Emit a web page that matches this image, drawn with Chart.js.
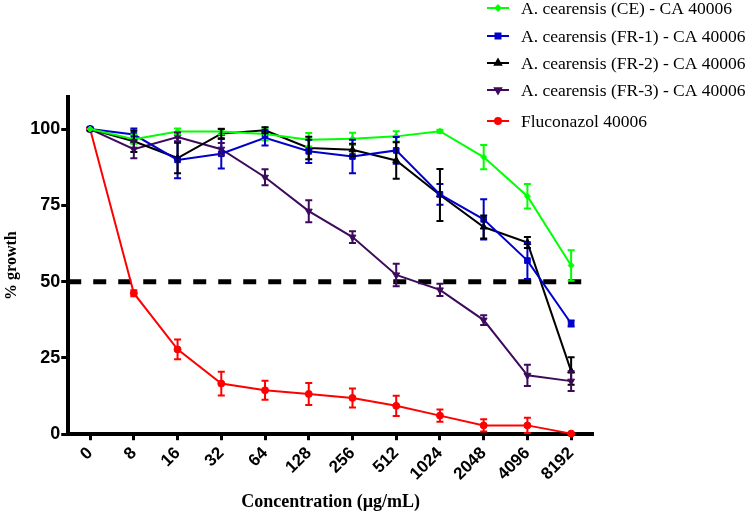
<!DOCTYPE html>
<html>
<head>
<meta charset="utf-8">
<script src="https://cdn.jsdelivr.net/npm/chart.js@4.4.0/dist/chart.umd.min.js"></script>
<style>
  html, body { margin: 0; padding: 0; background: #fff; }
  #wrap { width: 749px; height: 513px; position: relative; }
</style>
</head>
<body>
<div id="wrap"><canvas id="growthChart"></canvas></div>
<script>
// concentrations (µg/mL) on the x axis
const concentrations = ['0', '8', '16', '32', '64', '128', '256', '512', '1024', '2048', '4096', '8192'];

// % growth, with +/- error
const ceGrowth  = [100, 96.7, 99.2, 99.2, 98.4, 96.5, 96.8, 97.6, 99.3, 90.8, 78.0, 55.3];
const ceErr     = [0, 1.5, 1, 1, 2, 2.2, 2, 1.7, 0.5, 4, 4, 5];
const fr1Growth = [100, 98.2, 89.9, 91.9, 97.1, 92.7, 91.0, 93.0, 78.6, 70.4, 56.9, 36.3];
const fr1Err    = [0, 2, 6, 4.8, 2.5, 3.8, 5.5, 4.4, 3.4, 6.6, 6, 1];
const fr2Growth = [100, 96.0, 90.5, 98.5, 99.6, 93.8, 93.2, 89.7, 78.4, 67.9, 62.8, 20.7];
const fr2Err    = [0, 3.5, 5, 1.5, 1, 3.7, 2, 6, 8.5, 3.8, 1.8, 4.5];
const fr3Growth = [100, 93.4, 97.4, 93.4, 84.2, 73.1, 64.6, 52.2, 47.3, 37.4, 19.3, 17.4];
const fr3Err    = [0, 3, 1.5, 2, 2.6, 3.6, 1.9, 3.7, 2, 1.6, 3.5, 3.2];
const fluGrowth = [100, 46.2, 27.8, 16.6, 14.4, 13.2, 11.9, 9.3, 6.1, 2.9, 2.9, 0.2];
const fluErr    = [0, 1, 3.2, 3.9, 3.1, 3.6, 3.1, 3.3, 2, 2, 2.5, 0];

const yTicks = [0, 25, 50, 75, 100];
const cutoff = 50;

function series(label, data, errors, color, style, rotation, radius) {
  return {
    label, data, errors,
    borderColor: color, backgroundColor: color,
    borderWidth: 2, tension: 0,
    pointStyle: style, pointRotation: rotation || 0,
    pointRadius: radius, pointHoverRadius: radius,
    pointBorderWidth: 1,
    clip: false
  };
}

// dashed 50% line, behind the curves
const cutoffLine = {
  id: 'cutoffLine',
  beforeDatasetsDraw(chart) {
    const { ctx, chartArea, scales: { y } } = chart;
    const py = y.getPixelForValue(cutoff);
    ctx.save();
    ctx.strokeStyle = '#000';
    ctx.lineWidth = 5;
    ctx.setLineDash([13, 12]);
    ctx.beginPath();
    ctx.moveTo(chartArea.left, py);
    ctx.lineTo(chartArea.right - 4, py);
    ctx.stroke();
    ctx.restore();
  }
};

// vertical error bars with caps
const errorBars = {
  id: 'errorBars',
  afterDatasetsDraw(chart) {
    const { ctx, scales: { x, y } } = chart;
    chart.data.datasets.forEach((ds) => {
      ctx.save();
      ctx.strokeStyle = ds.borderColor;
      ctx.lineWidth = 2;
      ds.errors.forEach((e, j) => {
        if (!e) return;
        const px = x.getPixelForValue(j);
        const top = y.getPixelForValue(ds.data[j] + e);
        const bot = y.getPixelForValue(ds.data[j] - e);
        ctx.beginPath();
        ctx.moveTo(px, top); ctx.lineTo(px, bot);
        ctx.moveTo(px - 3.5, top); ctx.lineTo(px + 3.5, top);
        ctx.moveTo(px - 3.5, bot); ctx.lineTo(px + 3.5, bot);
        ctx.stroke();
      });
      ctx.restore();
    });
  }
};

// legend at the top right, partly above the plot
const sideLegend = {
  id: 'sideLegend',
  afterDraw(chart) {
    const ctx = chart.ctx;
    const rows = [8, 36, 63, 90, 121];
    ctx.save();
    ctx.font = '17.5px "Liberation Serif", "Times New Roman", serif';
    ctx.textBaseline = 'middle';
    chart.data.datasets.forEach((ds, i) => {
      const y = rows[i];
      ctx.strokeStyle = ds.borderColor;
      ctx.fillStyle = ds.borderColor;
      ctx.lineWidth = 2;
      ctx.beginPath();
      ctx.moveTo(487, y); ctx.lineTo(509, y);
      ctx.stroke();
      Chart.helpers.drawPoint(ctx, {
        pointStyle: ds.pointStyle, radius: ds.pointRadius - 0.5,
        rotation: ds.pointRotation, borderWidth: 1
      }, 498, y);
      ctx.fillStyle = '#000';
      ctx.fillText(ds.label, 521, y + 1);
    });
    ctx.restore();
  }
};

new Chart(document.getElementById('growthChart'), {
  type: 'line',
  data: {
    labels: concentrations,
    datasets: [
      series('A. cearensis (CE) - CA 40006', ceGrowth, ceErr, '#00ff00', 'rectRot', 0, 3),
      series('A. cearensis (FR-1) - CA 40006', fr1Growth, fr1Err, '#0000cc', 'rect', 0, 4),
      series('A. cearensis (FR-2) - CA 40006', fr2Growth, fr2Err, '#000000', 'triangle', 0, 4),
      series('A. cearensis (FR-3) - CA 40006', fr3Growth, fr3Err, '#3d0a5c', 'triangle', 180, 4),
      series('Fluconazol 40006', fluGrowth, fluErr, '#ff0000', 'circle', 0, 3.5)
    ]
  },
  options: {
    responsive: true,
    maintainAspectRatio: false,
    animation: false,
    layout: { padding: { top: 97, right: 156, left: 2, bottom: 0 } },
    plugins: { legend: { display: false }, tooltip: { enabled: false } },
    scales: {
      x: {
        type: 'category',
        offset: true,
        border: { display: true, color: '#000', width: 4 },
        grid: { display: true, offset: false, drawOnChartArea: false, drawTicks: true,
                tickLength: 6, tickWidth: 3, tickColor: '#000' },
        ticks: { color: '#000', maxRotation: 45, minRotation: 45, padding: 3,
                 font: { family: '"Liberation Sans", Arial, sans-serif', weight: 'bold', size: 17 } },
        title: { display: true, text: 'Concentration (µg/mL)', color: '#000',
                 padding: { top: 4, bottom: 0 },
                 font: { family: '"Liberation Serif", "Times New Roman", serif', weight: 'bold', size: 18 } }
      },
      y: {
        min: 0, max: 110.5,
        border: { display: true, color: '#000', width: 4 },
        grid: { display: true, drawOnChartArea: false, drawTicks: true,
                tickLength: 7, tickWidth: 3, tickColor: '#000' },
        afterBuildTicks(scale) { scale.ticks = yTicks.map(v => ({ value: v })); },
        ticks: { color: '#000', padding: 1,
                 font: { family: '"Liberation Sans", Arial, sans-serif', weight: 'bold', size: 18 } },
        title: { display: true, text: '% growth', color: '#000',
                 padding: { top: 0, bottom: 8 },
                 font: { family: '"Liberation Serif", "Times New Roman", serif', weight: 'bold', size: 16 } }
      }
    }
  },
  plugins: [cutoffLine, errorBars, sideLegend]
});
</script>
</body>
</html>
